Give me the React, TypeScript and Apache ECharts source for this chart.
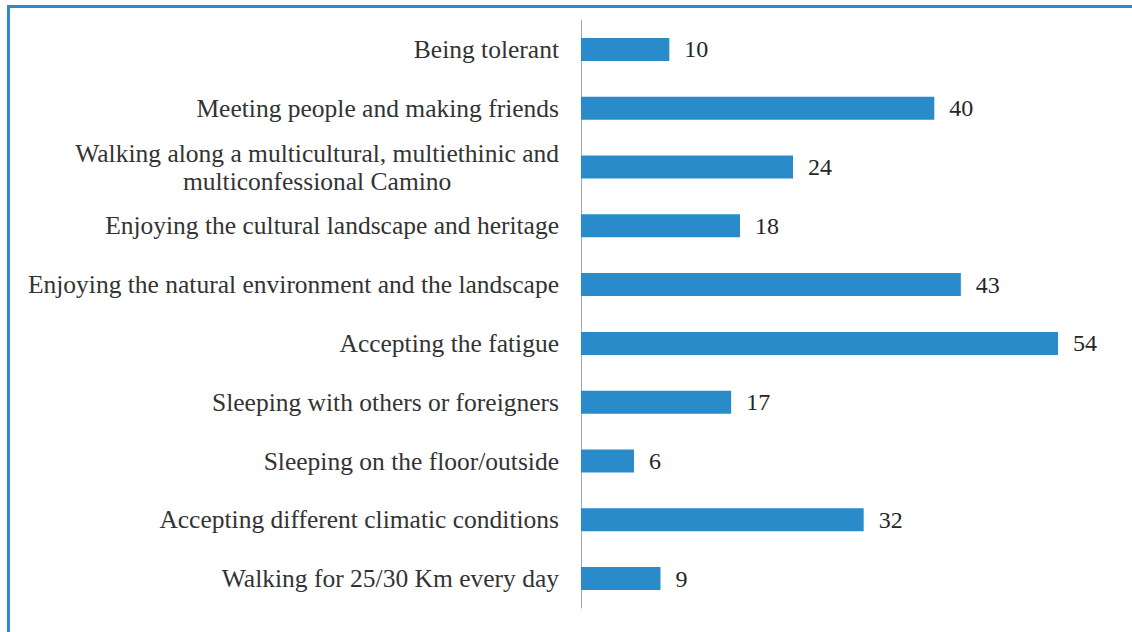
import React, { useEffect, useRef } from "react";
import * as echarts from "echarts";

const categories = [
  "Being tolerant",
  "Meeting people and making friends",
  "Walking along a multicultural, multiethinic and\nmulticonfessional Camino",
  "Enjoying the cultural landscape and heritage",
  "Enjoying the natural environment and the landscape",
  "Accepting the fatigue",
  "Sleeping with others or foreigners",
  "Sleeping on the floor/outside",
  "Accepting different climatic conditions",
  "Walking for 25/30 Km every day",
];
const values = [10, 40, 24, 18, 43, 54, 17, 6, 32, 9];

const FONT = "Liberation Serif";

export default function App() {
  const ref = useRef<HTMLDivElement>(null);
  useEffect(() => {
    if (!ref.current) return;
    const chart = echarts.init(ref.current, null, { renderer: "svg" });
    chart.setOption({
      animation: false,
      backgroundColor: "transparent",
      grid: { left: 581, top: 20, right: 21, bottom: 24, containLabel: false },
      xAxis: { type: "value", min: 0, max: 60, show: false },
      yAxis: {
        type: "category",
        data: categories,
        inverse: true,
        axisTick: { show: false },
        axisLine: { show: true, lineStyle: { color: "#a6a6a6", width: 1 } },
        axisLabel: {
          margin: 22,
          fontSize: 25.5,
          fontFamily: FONT,
          color: "#333333",
          lineHeight: 28,
          formatter: (v: string) =>
            v.includes("\n")
              ? v.split("\n").map((l) => "{c|" + l + "}").join("\n")
              : v,
          rich: {
            c: {
              align: "center",
              fontSize: 25.5,
              lineHeight: 28,
              fontFamily: FONT,
              color: "#333333",
            },
          },
        },
      },
      series: [
        {
          type: "bar",
          data: values,
          barWidth: 23,
          itemStyle: { color: "#2a8bcb" },
          label: {
            show: true,
            position: "right",
            distance: 15,
            fontSize: 24,
            fontFamily: FONT,
            color: "#262626",
          },
        },
      ],
    });
    return () => chart.dispose();
  }, []);
  return (
    <div
      style={{
        position: "absolute",
        left: 0,
        top: 0,
        width: 1132,
        height: 632,
        background: "#ffffff",
        overflow: "hidden",
      }}
    >
      <div
        style={{
          position: "absolute",
          left: 7,
          top: 5,
          width: 1132,
          height: 640,
          borderLeft: "3px solid #2a8bcb",
          borderTop: "3px solid #2a8bcb",
        }}
      />
      <div
        ref={ref}
        style={{ position: "absolute", left: 0, top: 0, width: 1132, height: 632 }}
      />
    </div>
  );
}
